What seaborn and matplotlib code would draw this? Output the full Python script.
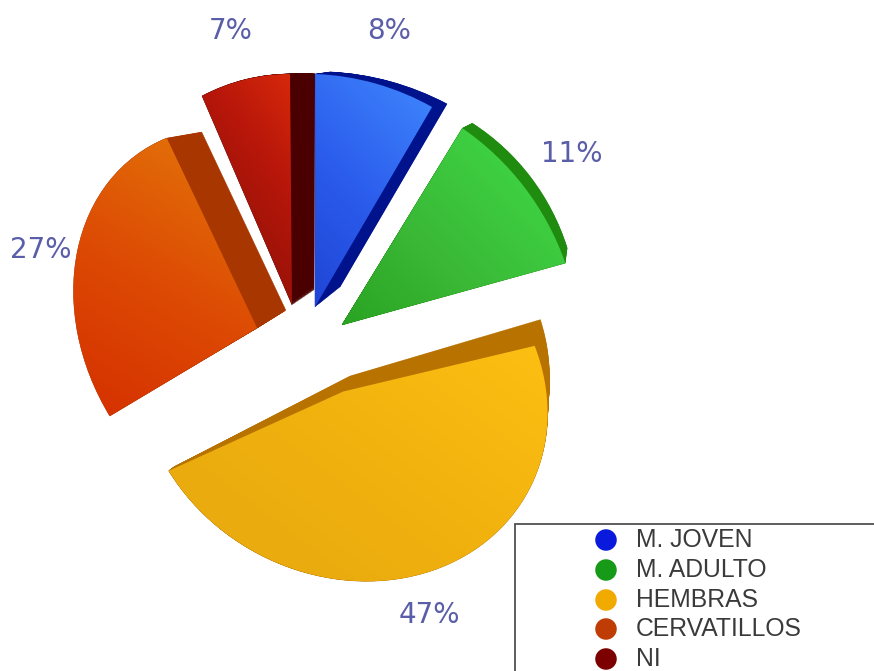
import numpy as np
import matplotlib
matplotlib.use("Agg")
import matplotlib.pyplot as plt
from matplotlib.patches import Rectangle, Wedge
from matplotlib.transforms import Affine2D
import seaborn as sns

# Herd composition, in percent
categories = ["M. JOVEN", "M. ADULTO", "HEMBRAS", "CERVATILLOS", "NI"]
shares = [8, 11, 47, 27, 7]

# Per-slice shading: light ramp across the top face, colour of the extruded side
face_ramps = [
    ["#1f45d6", "#2b5cec", "#3c80fb"],
    ["#2aa322", "#3ab836", "#3ecf42"],
    ["#eaab0e", "#f3b40f", "#fdbf12"],
    ["#d63300", "#dd4a04", "#e26d08"],
    ["#9c1208", "#b8170a", "#d6280a"],
]
side_colors = ["#00128c", "#1f8c10", "#b87200", "#a83600", "#4a0000"]
legend_colors = ["#0a1adc", "#179a17", "#f0aa00", "#c03c05", "#7d0000"]

# Exploded, perspective layout: where apex, arc start, arc middle, arc end land
face_anchors = [
    [(315, 307), (315, 74), (377, 84), (432, 107)],
    [(342, 325), (462, 128), (530, 190), (565, 263)],
    [(330, 393), (542, 345), (420, 572), (176, 470)],
    [(257, 330), (110, 413), (75, 287), (167, 135)],
    [(292, 305), (202, 96), (245, 79), (290, 74)],
]
back_anchors = [
    [(340, 287), (330, 72), (390, 80), (447, 104)],
    [(346, 320), (472, 123), (535, 180), (567, 248)],
    [(347, 370), (542, 323), (425, 552), (176, 470)],
    [(285, 313), (135, 385), (92, 283), (203, 128)],
    [(314, 290), (226, 96), (270, 74), (315, 74)],
]
anchor_weights = np.array([3.0, 3.0, 1.0, 3.0])
gradient_dirs = [(0.7, -0.7), (0.7, -0.7), (0.6, -0.8), (0.5, -0.85), (0.8, -0.6)]
label_spots = [(389, 31), (231, 31), (572, 154), (41, 250), (429, 615)]
label_order = [0, 4, 1, 3, 2]

sns.set_theme(style="white")
fig = plt.figure(figsize=(8.74, 6.71), dpi=100)
ax = fig.add_axes([0, 0, 1, 1])
wedges, _ = ax.pie(shares, startangle=90, counterclock=False, radius=1)


def fit_affine(wedge, anchors):
    """Weighted affine map taking the unit wedge onto four anchor points."""
    mid = 0.5 * (wedge.theta1 + wedge.theta2)
    if wedge.theta2 < wedge.theta1:
        mid += 180
    # pie() runs clockwise, so the arc starts at theta2 and ends at theta1
    angles = np.radians([wedge.theta2, mid, wedge.theta1])
    src = np.vstack([[0, 0], np.column_stack([np.cos(angles), np.sin(angles)])])
    design = np.column_stack([src, np.ones(4)]) * anchor_weights[:, None]
    target = np.asarray(anchors, float) * anchor_weights[:, None]
    coef, *_ = np.linalg.lstsq(design, target, rcond=None)
    return np.vstack([coef.T, [0, 0, 1]])


draw_order = [4, 3, 2, 1, 0]
for rank, i in enumerate(draw_order):
    w = wedges[i]
    front = fit_affine(w, face_anchors[i])
    back = fit_affine(w, back_anchors[i])
    base = 2 + rank * 2

    # Side wall: sweep the slice from its back position up to the face
    for t in np.linspace(1, 0, 30):
        layer = Wedge((0, 0), 1, w.theta1, w.theta2, facecolor=side_colors[i],
                      edgecolor=side_colors[i], linewidth=0.3, zorder=base)
        layer.set_transform(Affine2D((1 - t) * front + t * back) + ax.transData)
        ax.add_patch(layer)

    # Top face: gradient image clipped to the slice
    w.set_transform(Affine2D(front) + ax.transData)
    w.set(facecolor="none", edgecolor="none", zorder=base + 1)
    xs, ys = np.meshgrid(np.linspace(0, 874, 220), np.linspace(0, 671, 170))
    pts = np.asarray(face_anchors[i], float)
    dx, dy = gradient_dirs[i]
    ramp = xs * dx + ys * dy
    proj = pts[:, 0] * dx + pts[:, 1] * dy
    ramp = np.clip((ramp - proj.min()) / (proj.max() - proj.min()), 0, 1)
    cmap = sns.blend_palette(face_ramps[i], as_cmap=True)
    im = ax.imshow(ramp, extent=(0, 874, 671, 0), origin="upper", cmap=cmap,
                   vmin=0, vmax=1, interpolation="bilinear", zorder=base + 1)
    im.set_clip_path(w)

# Percentage labels around the pie
for spot, i in zip(label_spots, label_order):
    ax.text(spot[0], spot[1], f"{shares[i]}%", ha="center", va="center",
            fontsize=20, color="#5a5da8", family="DejaVu Sans", zorder=20)

# Legend box, running off the canvas at the right and bottom
ax.add_patch(Rectangle((515, 524), 400, 200, facecolor="white", edgecolor="#505050",
                       linewidth=1.3, zorder=15))
legend_x = [606] * len(categories)
legend_y = [540, 570, 600, 629, 659]
sns.scatterplot(x=legend_x, y=legend_y, hue=categories, palette=legend_colors,
                s=240, linewidth=0, legend=False, ax=ax, zorder=16)
for name, y in zip(categories, legend_y):
    ax.text(636, y, name, ha="left", va="center", fontsize=17.8,
            color="#3a3a3a", family="Liberation Sans", zorder=16)

ax.set_aspect("equal")
ax.set_xlim(0, 874)
ax.set_ylim(671, 0)
ax.axis("off")
fig.savefig("out.png", dpi=100, facecolor="white")
